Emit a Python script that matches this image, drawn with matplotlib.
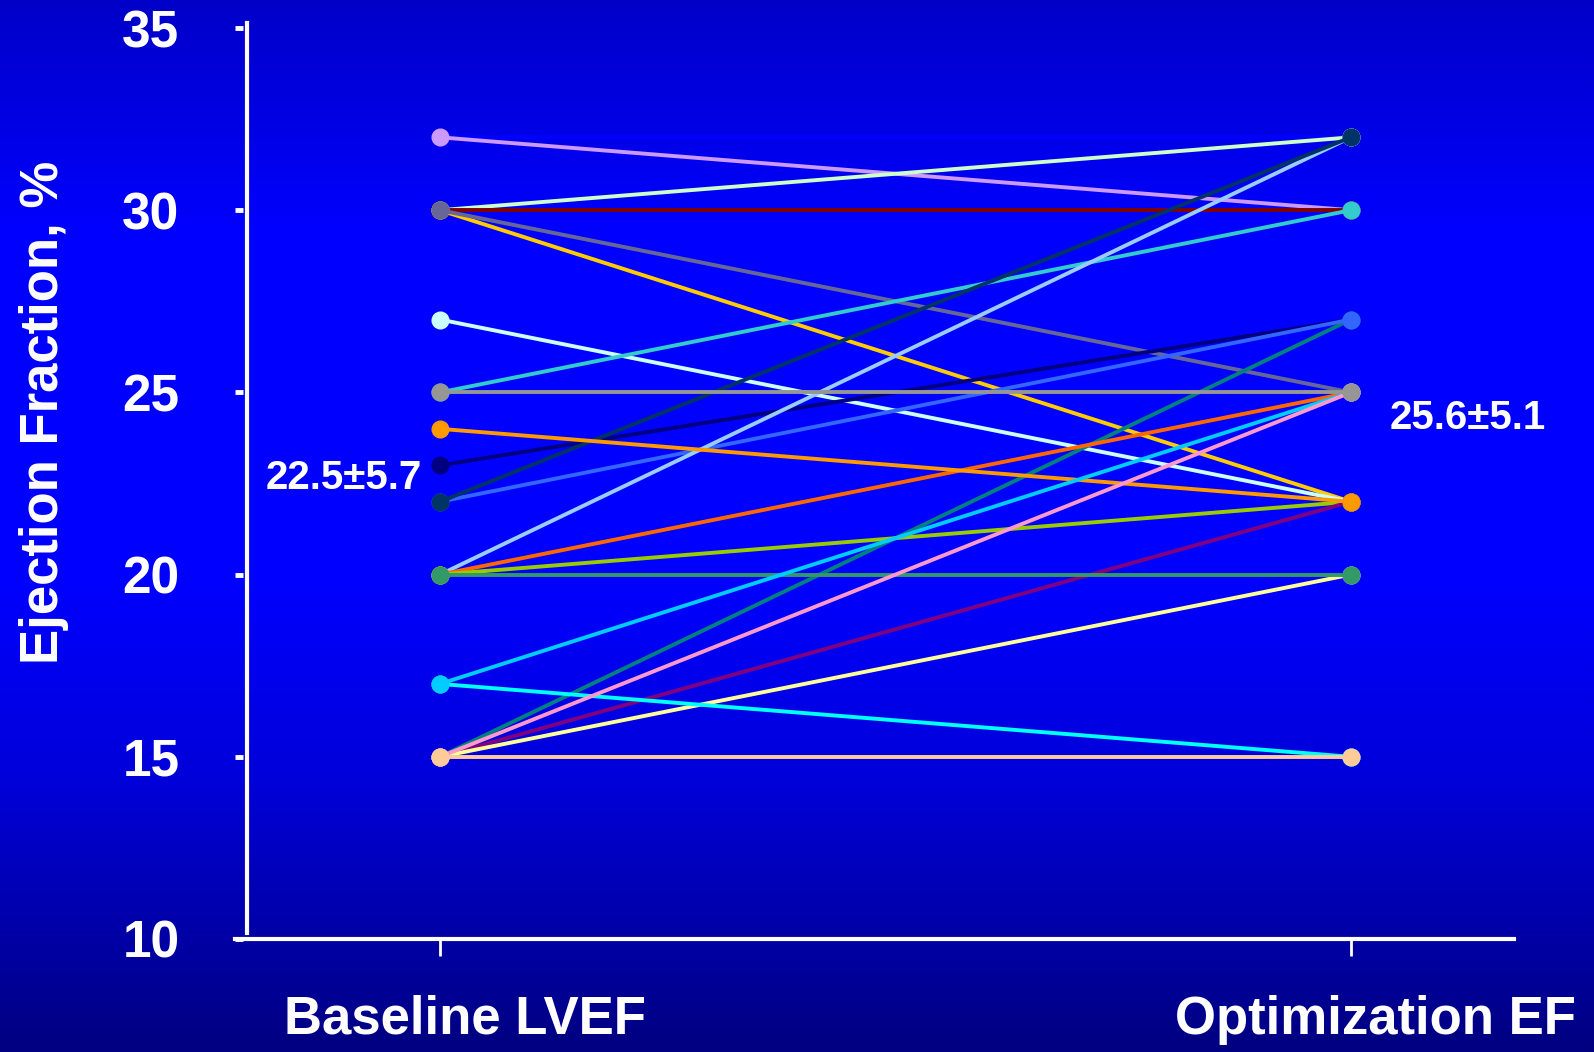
import numpy as np
import matplotlib.pyplot as plt
from matplotlib.lines import Line2D
from matplotlib.transforms import ScaledTranslation

# Datos: EF basal y tras optimización, un paciente por línea
baseline = [32, 32, 30, 30, 30, 30, 27, 25, 23, 15, 22, 20, 22, 20, 20, 15, 24, 15, 20, 17, 17, 15, 25, 15]
optim = [32, 30, 32, 30, 22, 25, 22, 30, 27, 27, 27, 32, 32, 25, 22, 22, 22, 20, 20, 15, 25, 25, 25, 15]
colores = ['#0000ff', '#cc99ff', '#ccffcc', '#800000', '#ffcc00', '#666699',
           '#ccffff', '#33cccc', '#000080', '#008080', '#3366ff', '#99ccff',
           '#003366', '#ff6600', '#99cc00', '#800080', '#ff9900', '#ffff99',
           '#339966', '#00ffff', '#00ccff', '#ff99cc', '#969696', '#ffcc99']
categorias = ['Baseline LVEF', 'Optimization EF']
yticks = [10, 15, 20, 25, 30, 35]
media_base = '22.5±5.7'
media_opt = '25.6±5.1'

plt.rcParams['font.family'] = ['Liberation Sans', 'DejaVu Sans']
plt.rcParams['font.weight'] = 'bold'

fig = plt.figure(figsize=(15.94, 10.52), dpi=100)

# Fondo con degradado azul
bg = fig.add_axes([0, 0, 1, 1], zorder=-10)
pos = np.linspace(0, 1, 400)
azul = np.interp(pos, [0, 0.22, 0.55, 0.75, 1.0], [200, 255, 255, 215, 128]) / 255
img = np.zeros((400, 1, 3))
img[:, 0, 2] = azul
bg.imshow(img, aspect='auto', extent=[0, 1, 0, 1])
bg.axis('off')

ax = fig.add_axes([235 / 1594, 113 / 1052, 1279 / 1594, 911 / 1052])
ax.patch.set_alpha(0)

x = [0, 1]
for b, o, c in zip(baseline, optim, colores):
    ax.plot(x, [b, o], '-o', color=c, lw=2.8, markersize=12, clip_on=False)

ax.set_xlim(-0.225, 1.179)
ax.set_ylim(10, 35)

for s in ['top', 'right', 'left']:
    ax.spines[s].set_visible(False)
ax.spines['bottom'].set_color('white')
ax.spines['bottom'].set_linewidth(3)

# Eje Y desplazado (línea separada de las marcas)
ax.add_line(Line2D([0.0095, 0.0095], [0.0065, 1.0055], transform=ax.transAxes,
                   color='white', lw=3, clip_on=False))

ax.set_xticks(x)
ax.set_xticklabels(categorias)
ax.set_yticks(yticks)
ax.tick_params(axis='x', colors='white', direction='out', length=12, width=2,
               labelsize=38, pad=28)
ax.tick_params(axis='y', colors='white', direction='in', length=6, width=3.5,
               labelsize=37, pad=40)
desplaza = ScaledTranslation(0.25, 0, fig.dpi_scale_trans)
for t in ax.get_xticklabels():
    t.set_fontweight('bold')
    t.set_transform(t.get_transform() + desplaza)
for t in ax.get_yticklabels():
    t.set_fontweight('bold')

ax.set_ylabel('Ejection Fraction, %', color='white', fontsize=38, fontweight='bold')
ax.yaxis.set_label_coords(-0.13, 0.578)

ax.text(-0.02, 22.65, media_base, color='white', fontsize=29, fontweight='bold',
        ha='right', va='center')
ax.text(1.043, 24.3, media_opt, color='white', fontsize=29, fontweight='bold',
        ha='left', va='center')

fig.savefig('out.png', dpi=100)
